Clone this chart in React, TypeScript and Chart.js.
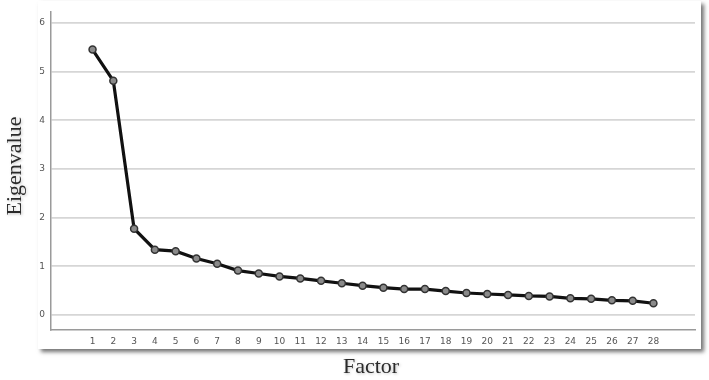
import React, { useEffect, useRef } from "react";
import { Chart, registerables } from "chart.js";

Chart.register(...registerables);

const factors = [1, 2, 3, 4, 5, 6, 7, 8, 9, 10, 11, 12, 13, 14, 15, 16, 17, 18, 19, 20, 21, 22, 23, 24, 25, 26, 27, 28];
const eigenvalues = [5.45, 4.81, 1.77, 1.34, 1.31, 1.16, 1.05, 0.91, 0.85, 0.79, 0.75, 0.7, 0.65, 0.6, 0.56, 0.53, 0.53, 0.49, 0.45, 0.43, 0.41, 0.39, 0.38, 0.34, 0.33, 0.3, 0.29, 0.24];
const yTicks = [0, 1, 2, 3, 4, 5, 6];
const xTitle = "Factor";
const yTitle = "Eigenvalue";

const framePlugin = {
  id: "frame",
  beforeDraw(chart: any) {
    const ctx = chart.ctx;
    ctx.save();
    ctx.fillStyle = "#ffffff";
    ctx.shadowColor = "rgba(0,0,0,0.55)";
    ctx.shadowBlur = 4;
    ctx.shadowOffsetX = 3;
    ctx.shadowOffsetY = 3;
    ctx.fillRect(38, 1, 663, 348);
    ctx.restore();
  },
  afterDraw(chart: any) {
    const ctx = chart.ctx;
    ctx.save();
    ctx.fillStyle = "#2a2a2a";
    ctx.shadowColor = "rgba(0,0,0,0.25)";
    ctx.shadowBlur = 3;
    ctx.shadowOffsetX = 1;
    ctx.shadowOffsetY = 1;
    ctx.font = "22px 'Liberation Serif', 'DejaVu Serif', serif";
    ctx.textAlign = "center";
    ctx.textBaseline = "middle";
    ctx.fillText(xTitle, 371, 367);
    ctx.translate(15, 166);
    ctx.rotate(-Math.PI / 2);
    ctx.fillText(yTitle, 0, 0);
    ctx.restore();
  },
};

export default function App() {
  const ref = useRef<HTMLCanvasElement>(null);
  useEffect(() => {
    if (!ref.current) return;
    const chart = new Chart(ref.current, {
      type: "line",
      data: {
        datasets: [
          {
            data: factors.map((f, i) => ({ x: f, y: eigenvalues[i] })),
            borderColor: "#111111",
            borderWidth: 3.2,
            pointRadius: 3.5,
            pointBackgroundColor: "#8a8a8a",
            pointBorderColor: "#333333",
            pointBorderWidth: 1.5,
            tension: 0,
          },
        ],
      },
      options: {
        responsive: false,
        animation: false,
        layout: { padding: { left: 0, right: 14, top: 0, bottom: 0 } },
        plugins: { legend: { display: false }, tooltip: { enabled: false } },
        scales: {
          x: {
            type: "linear",
            min: -1,
            max: 30,
            afterBuildTicks: (s: any) => {
              s.ticks = factors.map((v) => ({ value: v }));
            },
            afterFit: (s: any) => {
              s.height = 50;
            },
            grid: { display: false, drawTicks: false },
            border: { display: true, color: "#9a9a9a", width: 1.5 },
            ticks: {
              padding: 6,
              autoSkip: false,
              maxRotation: 0,
              color: "#555555",
              font: { family: "'DejaVu Sans', sans-serif", size: 9 },
              callback: (v: any) => String(v),
            },
          },
          y: {
            min: -0.31,
            max: 6.235,
            afterBuildTicks: (s: any) => {
              s.ticks = yTicks.map((v) => ({ value: v }));
            },
            afterFit: (s: any) => {
              s.width = 51;
            },
            grid: { color: "#d6d6d6", lineWidth: 1.8, drawTicks: false },
            border: { display: true, color: "#9a9a9a", width: 1.5 },
            ticks: {
              padding: 6,
              color: "#555555",
              font: { family: "'DejaVu Sans', sans-serif", size: 9 },
            },
          },
        },
      },
      plugins: [framePlugin],
    });
    return () => chart.destroy();
  }, []);
  return (
    <div style={{ position: "absolute", left: 0, top: 0, width: 709, height: 380, background: "#fff" }}>
      <canvas ref={ref} width={709} height={380} style={{ display: "block" }} />
    </div>
  );
}
